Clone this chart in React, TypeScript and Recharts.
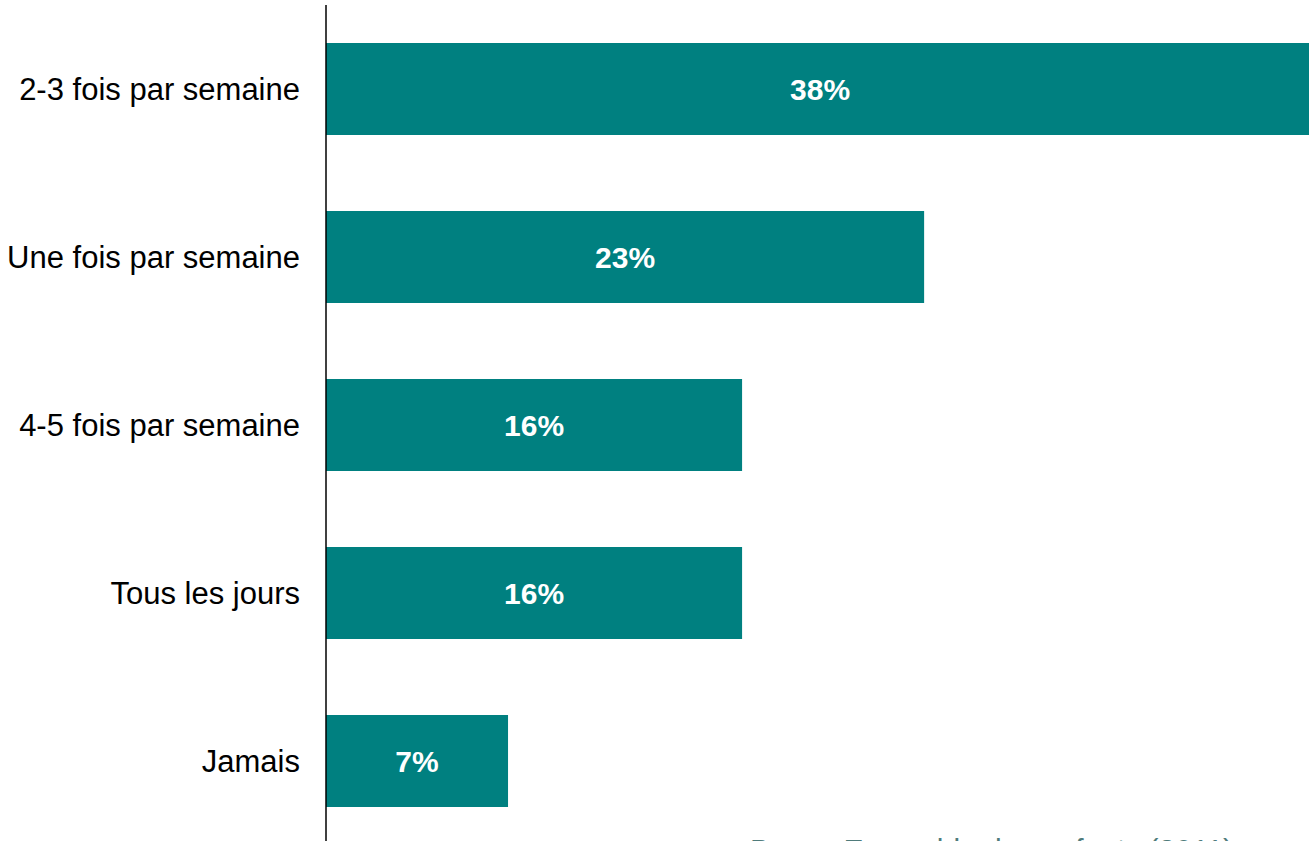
import React from 'react';
import { BarChart, Bar, XAxis, YAxis, LabelList } from 'recharts';

const categories = [
  '2-3 fois par semaine',
  'Une fois par semaine',
  '4-5 fois par semaine',
  'Tous les jours',
  'Jamais',
];
const shares = [38, 23, 16, 16, 7];

const data = categories.map((name, i) => ({ name, value: shares[i] }));

const FONT = '"Liberation Sans", Arial, sans-serif';

const App: React.FC = () => {
  return (
    <div
      style={{
        position: 'fixed',
        left: 0,
        top: 0,
        width: 1309,
        height: 841,
        overflow: 'hidden',
        background: '#fff',
        fontFamily: FONT,
      }}
    >
      <BarChart
        width={1309}
        height={860}
        data={data}
        layout="vertical"
        margin={{ top: 5, right: 0, bottom: 15, left: 0 }}
        barSize={92}
      >
        <XAxis type="number" domain={[0, 37.8]} allowDataOverflow hide />
        <YAxis
          type="category"
          dataKey="name"
          width={326}
          tickLine={false}
          tickSize={0}
          tickMargin={26}
          axisLine={{ stroke: '#000', strokeWidth: 1.5 }}
          tick={{ fill: '#000', fontSize: 31, fontFamily: FONT }}
        />
        <Bar dataKey="value" fill="#008080" isAnimationActive={false}>
          <LabelList
            dataKey="value"
            position="center"
            formatter={(v: number) => `${v}%`}
            style={{ fill: '#fff', fontSize: 30, fontWeight: 700, fontFamily: FONT }}
          />
        </Bar>
      </BarChart>
      {/* source note, cut off by the bottom edge as in the original */}
      <div
        style={{
          position: 'absolute',
          left: 750,
          top: 833,
          fontSize: 30,
          lineHeight: '34px',
          color: '#4f7b7b',
          whiteSpace: 'nowrap',
        }}
      >
        Base : Ensemble des enfants (2011)
      </div>
    </div>
  );
};

export default App;
